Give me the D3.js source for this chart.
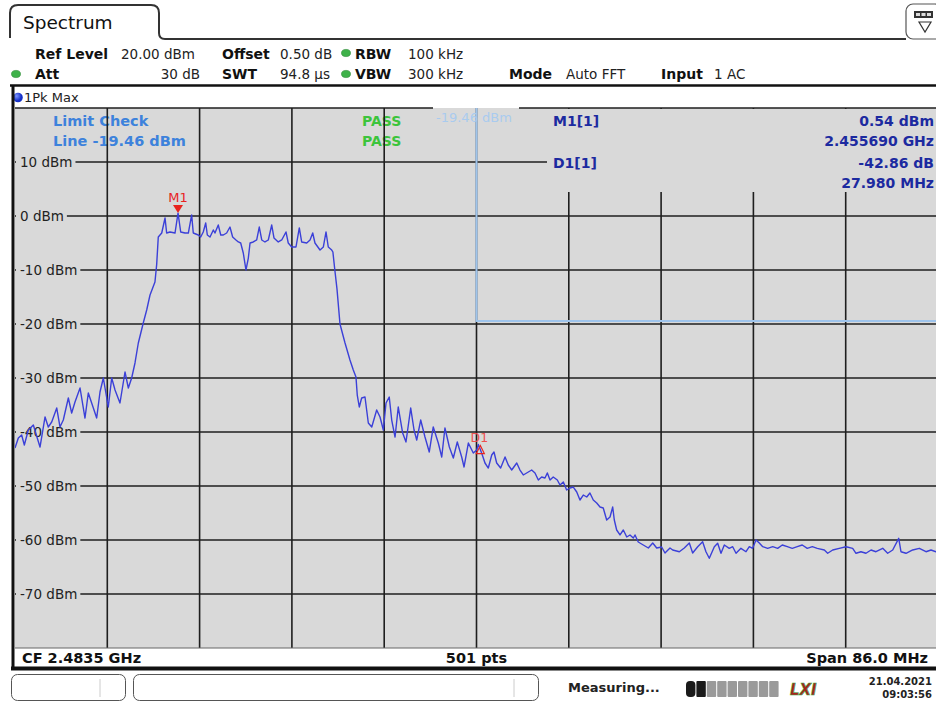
<!DOCTYPE html>
<html><head><meta charset="utf-8">
<script src="https://cdn.jsdelivr.net/npm/d3@7"></script>
<style>
html,body{margin:0;padding:0;background:#fff;overflow:hidden;}
svg{display:block;font-family:"DejaVu Sans",Verdana,sans-serif;}
</style></head>
<body><svg id="c" width="936" height="702"></svg>
<script>
// ---------------- data ----------------
const centerFreqGHz = 2.4835;
const spanMHz = 86.0;
const refLevelDbm = 20;
const rangeDb = 100;
const levelTicks = [10, 0, -10, -20, -30, -40, -50, -60, -70];
const levelTickLabels = ["10 dBm", "0 dBm", "-10 dBm", "-20 dBm", "-30 dBm", "-40 dBm", "-50 dBm", "-60 dBm", "-70 dBm"];
const limitLevelDbm = -19.46;
const limitStartOffsetMHz = 43.0;   // limit line starts at 2.4835 GHz
const headerRow1 = [["Ref Level", "20.00 dBm"], ["Offset", "0.50 dB"], ["RBW", "100 kHz"]];
const headerRow2 = [["Att", "30 dB"], ["SWT", "94.8 µs"], ["VBW", "300 kHz"], ["Mode", "Auto FFT"], ["Input", "1 AC"]];
const markerM1 = { name: "M1", offsetMHz: 15.19, level: 0.54 };
const markerD1 = { name: "D1", offsetMHz: 43.17, level: -42.32 };
const markerInfo = [["M1[1]", "0.54 dBm", "2.455690 GHz"], ["D1[1]", "-42.86 dB", "27.980 MHz"]];
// trace: [frequency offset from span start (MHz), level (dBm)]
const tracePoints = [
[0,-42.96],[0.31,-41.11],[0.62,-40.56],[0.87,-42.41],[1.24,-39.63],[1.71,-38.70],[1.93,-40.19],[2.33,-42.78],
[2.80,-37.22],[3.10,-39.07],[3.42,-38.15],[3.89,-35.56],[4.19,-39.07],[4.50,-37.78],[4.97,-33.70],[5.28,-36.48],
[5.59,-34.44],[6.06,-31.85],[6.52,-37.41],[6.83,-32.78],[7.30,-35.56],[7.61,-37.41],[7.92,-32.59],[8.23,-30.0],
[8.69,-35.37],[9.01,-30.0],[9.32,-32.22],[9.78,-34.63],[10.25,-28.89],[10.56,-31.85],[10.87,-30.0],[11.18,-27.22],
[11.49,-23.52],[11.95,-19.81],[12.27,-17.41],[12.58,-14.63],[13.04,-12.22],[13.20,-9.0],[13.35,-3.89],[13.67,-3.15],
[13.98,-0.37],[14.13,-3.15],[14.44,-2.96],[14.91,-3.15],[15.19,0.54],[15.44,-2.96],[15.84,-3.15],[16.15,-3.15],
[16.46,0.2],[16.61,-3.15],[17.08,-3.52],[17.30,-3.89],[17.54,-2.96],[17.77,-1.30],[17.92,-3.52],[18.17,-3.89],
[18.48,-2.59],[18.63,-3.15],[18.94,-1.67],[19.17,-3.52],[19.41,-3.52],[19.72,-3.15],[20.03,-2.04],[20.28,-3.89],
[20.59,-4.44],[20.81,-4.81],[21.03,-5.0],[21.27,-6.85],[21.52,-10.0],[21.74,-7.78],[21.90,-5.0],[22.20,-4.81],
[22.52,-4.44],[22.76,-2.04],[22.99,-4.44],[23.29,-4.81],[23.60,-4.44],[23.92,-1.67],[24.13,-4.07],[24.53,-4.81],
[24.85,-4.44],[25.25,-2.96],[25.46,-5.0],[25.78,-5.74],[26.18,-5.74],[26.49,-2.22],[26.71,-4.81],[27.18,-5.0],
[27.49,-4.44],[27.74,-3.15],[27.95,-5.0],[28.42,-6.30],[28.73,-5.74],[28.98,-2.96],[29.19,-5.74],[29.51,-6.30],
[29.62,-6.67],[29.80,-10.0],[30.00,-13.5],[30.28,-20.0],[30.75,-23.52],[31.21,-26.67],[31.52,-28.52],[31.77,-29.81],
[31.89,-33.15],[32.08,-35.37],[32.30,-33.70],[32.61,-33.52],[32.92,-38.33],[33.24,-39.07],[33.70,-35.93],[34.01,-37.22],
[34.32,-39.63],[34.57,-34.63],[34.87,-33.52],[35.10,-37.78],[35.41,-40.93],[35.71,-35.37],[36.12,-40.19],[36.43,-41.85],
[36.87,-35.56],[37.18,-39.63],[37.43,-41.48],[37.80,-37.78],[38.20,-40.93],[38.60,-43.70],[38.97,-39.07],[39.44,-42.04],
[39.76,-44.63],[40.06,-39.26],[40.47,-42.78],[40.84,-44.81],[41.21,-41.85],[41.62,-44.63],[41.84,-46.48],[42.24,-42.04],
[42.70,-43.89],[43.02,-43.33],[43.17,-42.32],[43.48,-43.89],[43.79,-45.74],[44.10,-46.67],[44.42,-44.26],[44.63,-43.70],
[44.88,-45.74],[45.25,-46.67],[45.66,-44.63],[45.96,-46.11],[46.28,-47.04],[46.75,-45.74],[47.05,-47.04],[47.36,-47.96],
[47.83,-47.41],[48.14,-47.04],[48.45,-47.59],[48.76,-48.89],[49.07,-48.33],[49.38,-48.52],[49.60,-47.59],[49.85,-48.89],
[50.15,-48.33],[50.53,-48.89],[50.78,-49.81],[51.09,-49.26],[51.40,-50.74],[51.71,-50.37],[52.02,-50.19],[52.34,-51.11],
[52.64,-52.59],[52.95,-51.67],[53.27,-52.04],[53.57,-51.30],[53.88,-52.59],[54.20,-53.15],[54.51,-53.89],[54.81,-54.07],
[55.13,-56.30],[55.44,-55.74],[55.69,-53.89],[55.84,-56.30],[56.06,-58.15],[56.37,-59.07],[56.68,-58.15],[57.00,-59.44],
[57.30,-59.07],[57.61,-59.63],[57.77,-59.07],[58.07,-60.37],[58.54,-60.93],[59.01,-61.48],[59.42,-60.56],[59.79,-61.48],
[60.25,-61.30],[60.56,-62.41],[61.03,-61.48],[61.28,-61.85],[61.90,-62.17],[62.36,-61.48],[62.83,-60.56],[63.14,-62.41],
[63.61,-61.24],[64.07,-60.31],[64.38,-62.17],[64.69,-63.39],[65.16,-61.24],[65.47,-60.60],[65.78,-62.46],[66.09,-60.93],
[66.55,-61.54],[66.87,-61.24],[67.18,-62.46],[67.64,-61.54],[68.11,-62.17],[68.42,-61.24],[68.73,-61.54],[69.04,-60.0],
[69.35,-60.56],[69.67,-61.24],[70.13,-61.54],[70.60,-61.24],[71.06,-61.54],[71.49,-60.93],[71.96,-61.24],[72.42,-61.54],
[72.89,-61.24],[73.35,-60.93],[73.82,-61.54],[74.29,-61.24],[74.75,-61.54],[75.41,-61.85],[75.72,-62.46],[76.19,-61.85],
[76.80,-61.54],[77.43,-61.24],[78.05,-61.54],[78.36,-62.46],[78.82,-62.17],[79.29,-62.46],[79.76,-61.85],[80.22,-62.17],
[80.85,-61.54],[81.31,-62.46],[81.78,-61.85],[82.34,-59.69],[82.55,-62.17],[83.02,-62.46],[83.64,-61.85],[84.26,-61.54],
[84.88,-62.17],[85.35,-61.85],[85.81,-62.17],[86.0,-61.90]
];

// ---------------- drawing ----------------
const svg = d3.select("#c");
const P = { left: 15, right: 938, top: 108, bottom: 648 };
const PLOT_BG = "#d9d9d9";
const x = d3.scaleLinear().domain([0, spanMHz]).range([P.left, P.right]);
const y = d3.scaleLinear().domain([refLevelDbm - rangeDb, refLevelDbm]).range([P.bottom, P.top]);

svg.append("rect").attr("width", 936).attr("height", 702).attr("fill", "#fff");

// ---- header tab ----
svg.append("path")
  .attr("d", "M10,38 L10,13 Q10,5 18,5 L151,5 Q159,5 159,13 L159,33 Q159,39 165,39 L906,39")
  .attr("fill", "none").attr("stroke", "#333").attr("stroke-width", 2);
svg.append("text").attr("x", 23).attr("y", 29).attr("font-size", 18.5).attr("fill", "#111").text("Spectrum");
// icon top right
svg.append("rect").attr("x", 906).attr("y", 4).attr("width", 36).attr("height", 35).attr("rx", 7)
  .attr("fill", "#fff").attr("stroke", "#555").attr("stroke-width", 1.2);
svg.append("rect").attr("x", 914).attr("y", 11).attr("width", 19).attr("height", 7).attr("fill", "#333");
[916, 921.5, 927].forEach(px => svg.append("rect").attr("x", px).attr("y", 13).attr("width", 4).attr("height", 3).attr("fill", "#ddd"));
svg.append("path").attr("d", "M919,22 L931,22 L925,32 Z").attr("fill", "none").attr("stroke", "#333").attr("stroke-width", 1.2);

// ---- header rows ----
function greenDot(cx, cy) {
  svg.append("ellipse").attr("cx", cx).attr("cy", cy).attr("rx", 4.5).attr("ry", 3.6)
    .attr("fill", "#3fb24a").attr("stroke", "#2a8a33").attr("stroke-width", 0.6);
}
const r1y = 59, r2y = 79;
const row1Pos = [[35, 121, "start"], [222, 280, "start"], [355, 408, "start"]];
headerRow1.forEach((d, i) => {
  svg.append("text").attr("x", row1Pos[i][0]).attr("y", r1y).attr("font-size", 14).attr("font-weight", "bold").attr("fill", "#111").text(d[0]);
  svg.append("text").attr("x", row1Pos[i][1]).attr("y", r1y).attr("font-size", 13.5).attr("fill", "#222").text(d[1]);
});
const row2Pos = [[35, 200, "end"], [222, 280, "start"], [355, 408, "start"], [509, 566, "start"], [661, 714, "start"]];
headerRow2.forEach((d, i) => {
  svg.append("text").attr("x", row2Pos[i][0]).attr("y", r2y).attr("font-size", 14).attr("font-weight", "bold").attr("fill", "#111").text(d[0]);
  svg.append("text").attr("x", row2Pos[i][1]).attr("y", r2y).attr("font-size", 13.5).attr("fill", "#222")
    .attr("text-anchor", row2Pos[i][2]).text(d[1]);
});
greenDot(346, 53);
greenDot(16, 74);
greenDot(346, 74);

svg.append("line").attr("x1", 10).attr("x2", 936).attr("y1", 85.5).attr("y2", 85.5).attr("stroke", "#111").attr("stroke-width", 2.5);

// trace label row
const dotGrad = svg.append("defs").append("radialGradient").attr("id", "bd").attr("cx", "35%").attr("cy", "35%");
dotGrad.append("stop").attr("offset", "0%").attr("stop-color", "#7d95ff");
dotGrad.append("stop").attr("offset", "100%").attr("stop-color", "#1530c8");
svg.append("circle").attr("cx", 18).attr("cy", 97.5).attr("r", 4.8).attr("fill", "url(#bd)");
svg.append("text").attr("x", 24).attr("y", 102).attr("font-size", 13).attr("fill", "#222").text("1Pk Max");

// ---- plot area ----
svg.append("rect").attr("x", P.left).attr("y", P.top).attr("width", P.right - P.left).attr("height", P.bottom - P.top).attr("fill", PLOT_BG);

// limit texts (under the grid lines)
svg.append("text").attr("x", 53).attr("y", 126).attr("font-size", 14.5).attr("font-weight", "bold").attr("fill", "#3d82dc").text("Limit Check");
svg.append("text").attr("x", 53).attr("y", 146).attr("font-size", 14.5).attr("font-weight", "bold").attr("fill", "#3d82dc").text("Line " + limitLevelDbm.toFixed(2) + " dBm");
svg.append("text").attr("x", 362).attr("y", 126).attr("font-size", 14).attr("font-weight", "bold").attr("fill", "#3cc43c").text("PASS");
svg.append("text").attr("x", 362).attr("y", 146).attr("font-size", 14).attr("font-weight", "bold").attr("fill", "#3cc43c").text("PASS");

// grid
const gridColor = "#1e1e1e";
const vDivs = d3.range(1, 10).map(i => i * spanMHz / 10);
svg.append("g").selectAll("line").data(vDivs).join("line")
  .attr("x1", d => x(d)).attr("x2", d => x(d)).attr("y1", P.top).attr("y2", P.bottom)
  .attr("stroke", gridColor).attr("stroke-width", 1.6);
svg.append("g").selectAll("line").data(levelTicks).join("line")
  .attr("x1", P.left).attr("x2", P.right).attr("y1", d => y(d)).attr("y2", d => y(d))
  .attr("stroke", gridColor).attr("stroke-width", 1.6);
// top border (gap for limit label)
svg.append("line").attr("x1", P.left).attr("x2", 433).attr("y1", P.top).attr("y2", P.top).attr("stroke", gridColor).attr("stroke-width", 1.6);
svg.append("line").attr("x1", 519).attr("x2", P.right).attr("y1", P.top).attr("y2", P.top).attr("stroke", gridColor).attr("stroke-width", 1.6);
svg.append("line").attr("x1", P.left).attr("x2", P.right).attr("y1", P.bottom).attr("y2", P.bottom).attr("stroke", "#666").attr("stroke-width", 1);

// level labels with masks
const lab = svg.append("g");
levelTicks.forEach((v, i) => {
  const t = lab.append("text").attr("x", 20).attr("y", y(v) + 5).attr("font-size", 13.5).attr("fill", "#222").text(levelTickLabels[i]);
  const w = t.node().getComputedTextLength();
  lab.insert("rect", "text").attr("x", P.left + 1).attr("y", y(v) - 8).attr("width", 20 - P.left + w + 2).attr("height", 16).attr("fill", PLOT_BG);
});

// marker info panel
svg.append("rect").attr("x", 547).attr("y", P.top + 1).attr("width", P.right - 547).attr("height", 83).attr("fill", PLOT_BG);
const infoColor = "#1c2aa0";
markerInfo.forEach((m, i) => {
  const by = 126 + i * 42;
  svg.append("text").attr("x", 553).attr("y", by).attr("font-size", 14).attr("font-weight", "bold").attr("fill", infoColor).text(m[0]);
  svg.append("text").attr("x", 934).attr("y", by).attr("text-anchor", "end").attr("font-size", 14).attr("font-weight", "bold").attr("fill", infoColor).text(m[1]);
  svg.append("text").attr("x", 934).attr("y", by + 20).attr("text-anchor", "end").attr("font-size", 14).attr("font-weight", "bold").attr("fill", infoColor).text(m[2]);
});

// limit line
svg.append("path")
  .attr("d", `M${x(limitStartOffsetMHz)},${P.top} V${y(limitLevelDbm)} H${P.right}`)
  .attr("fill", "none").attr("stroke", "#9ec4ec").attr("stroke-width", 2);
svg.append("text").attr("x", 436).attr("y", 122).attr("font-size", 13).attr("fill", "#a9cbef").text(limitLevelDbm.toFixed(2) + " dBm");

// trace
svg.append("defs").append("clipPath").attr("id", "pc").append("rect")
  .attr("x", P.left).attr("y", P.top).attr("width", P.right - P.left).attr("height", P.bottom - P.top);
const line = d3.line().x(d => x(d[0])).y(d => y(d[1]));
svg.append("path").datum(tracePoints).attr("clip-path", "url(#pc)")
  .attr("d", line).attr("fill", "none").attr("stroke", "#3b40d8").attr("stroke-width", 1.4).attr("stroke-linejoin", "round");

// markers
const mx = x(markerM1.offsetMHz), my = y(markerM1.level);
svg.append("path").attr("d", `M${mx - 5},${my - 8} L${mx + 5},${my - 8} L${mx},${my} Z`).attr("fill", "#e8231f");
svg.append("text").attr("x", mx).attr("y", my - 11).attr("text-anchor", "middle").attr("font-size", 13).attr("fill", "#e8231f").text(markerM1.name);
const dx = x(markerD1.offsetMHz), dy = y(markerD1.level);
svg.append("path").attr("d", `M${dx + 2},${dy + 1} L${dx + 6},${dy + 9} L${dx - 2},${dy + 9} Z`).attr("fill", "none").attr("stroke", "#e8231f").attr("stroke-width", 1.2);
svg.append("text").attr("x", dx + 1).attr("y", dy - 3).attr("text-anchor", "middle").attr("font-size", 12.5).attr("fill", "#ee5050").text(markerD1.name);

// ---- bottom strip ----
svg.append("text").attr("x", 22).attr("y", 663).attr("font-size", 14.5).attr("font-weight", "bold").attr("fill", "#111").text("CF " + centerFreqGHz + " GHz");
svg.append("text").attr("x", x(spanMHz / 2)).attr("y", 663).attr("text-anchor", "middle").attr("font-size", 14.5).attr("font-weight", "bold").attr("fill", "#111").text("501 pts");
svg.append("text").attr("x", 928).attr("y", 663).attr("text-anchor", "end").attr("font-size", 14.5).attr("font-weight", "bold").attr("fill", "#111").text("Span " + spanMHz.toFixed(1) + " MHz");
svg.append("line").attr("x1", 11).attr("x2", 936).attr("y1", 668.5).attr("y2", 668.5).attr("stroke", "#111").attr("stroke-width", 4);
svg.append("line").attr("x1", 13).attr("x2", 13).attr("y1", 85).attr("y2", 669).attr("stroke", "#111").attr("stroke-width", 3);

// ---- status bar ----
svg.append("rect").attr("x", 11.5).attr("y", 674.5).attr("width", 114).attr("height", 26).attr("rx", 6).attr("fill", "#fff").attr("stroke", "#555");
svg.append("line").attr("x1", 100).attr("x2", 100).attr("y1", 679).attr("y2", 697).attr("stroke", "#ccc");
svg.append("rect").attr("x", 133.5).attr("y", 674.5).attr("width", 405).attr("height", 26).attr("rx", 6).attr("fill", "#fff").attr("stroke", "#555");
svg.append("line").attr("x1", 514).attr("x2", 514).attr("y1", 679).attr("y2", 697).attr("stroke", "#ccc");
svg.append("text").attr("x", 568).attr("y", 692).attr("font-size", 13).attr("font-weight", "bold").attr("fill", "#222").text("Measuring...");
const pg = svg.append("g");
d3.range(9).forEach(i => {
  pg.append("rect").attr("x", 686 + i * 10.4).attr("y", 681).attr("width", 9.4).attr("height", 16).attr("rx", i === 0 ? 4 : 1)
    .attr("fill", i < 2 ? "#1a1a1a" : "#9a9a9a");
});
svg.append("text").attr("x", 790).attr("y", 695).attr("font-size", 15).attr("font-weight", "bold").attr("font-style", "italic")
  .attr("fill", "#a8231f").attr("stroke", "#3caa3c").attr("stroke-width", 0.6).text("LXI");
svg.append("text").attr("x", 932).attr("y", 685).attr("text-anchor", "end").attr("font-size", 10).attr("font-weight", "bold").attr("fill", "#222").text("21.04.2021");
svg.append("text").attr("x", 932).attr("y", 697.5).attr("text-anchor", "end").attr("font-size", 10).attr("font-weight", "bold").attr("fill", "#222").text("09:03:56");
</script>
</body></html>
